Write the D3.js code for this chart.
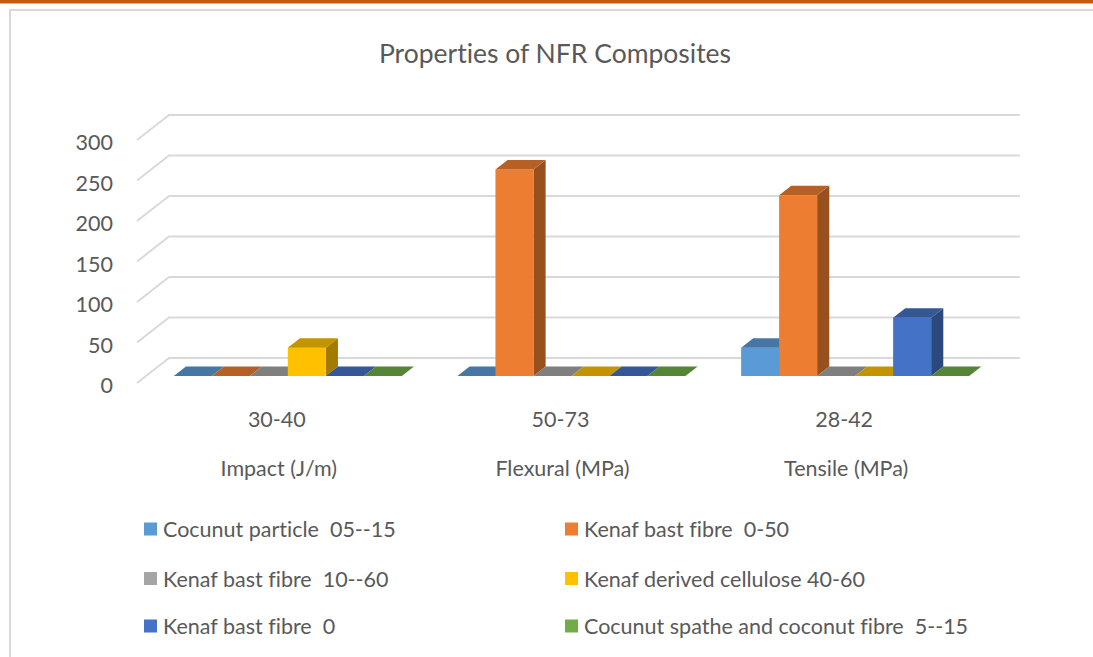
<!DOCTYPE html>
<html>
<head>
<meta charset="utf-8">
<script src="https://cdn.jsdelivr.net/npm/d3@7"></script>
<style>
  html, body { margin: 0; padding: 0; background: #fff; }
  svg { display: block; }
  text { font-family: Lato, "Open Sans", sans-serif; fill: #595959; white-space: pre;
         font-variant-ligatures: none; font-feature-settings: "liga" 0, "clig" 0; }
</style>
</head>
<body>
<svg id="chart" width="1093" height="657"></svg>
<script>
// Chart data
const categories = ["Impact (J/m)", "Flexural (MPa)", "Tensile (MPa)"];
const rangeLabels = ["30-40", "50-73", "28-42"];
const seriesNames = [
  "Cocunut particle  05--15",
  "Kenaf bast fibre  0-50",
  "Kenaf bast fibre  10--60",
  "Kenaf derived cellulose 40-60",
  "Kenaf bast fibre  0",
  "Cocunut spathe and coconut fibre  5--15"
];
const cocunutParticle   = [0, 0, 35];
const kenafBast0to50    = [0, 255, 223];
const kenafBast10to60   = [0, 0, 0];
const kenafCellulose    = [35, 0, 0];
const kenafBast0        = [0, 0, 72];
const cocunutSpathe     = [0, 0, 0];
const seriesValues = [cocunutParticle, kenafBast0to50, kenafBast10to60, kenafCellulose, kenafBast0, cocunutSpathe];
const seriesColors = ["#5B9BD5", "#ED7D31", "#A5A5A5", "#FFC000", "#4472C4", "#70AD47"];
const yTicks = [0, 50, 100, 150, 200, 250, 300];

const svg = d3.select("#chart");

// Window frame
svg.append("rect").attr("x", 0).attr("y", 0).attr("width", 1093).attr("height", 3.5).attr("fill", "#C55A11");
svg.append("rect").attr("x", 10).attr("y", 10).attr("width", 1200).attr("height", 1000)
  .attr("fill", "none").attr("stroke", "#d9d9d9").attr("stroke-width", 2);

// Oblique 3D projection: front plane + depth vector
const depth = { dx: 32, dy: -25 };
const frontLeft = 137, frontRight = 988;
const y = d3.scaleLinear().domain([0, 300]).range([383, 140]);
const x0 = d3.scaleBand().domain(categories).range([frontLeft, frontRight]).padding(0);
const x1 = d3.scaleBand().domain(seriesNames).range([0, x0.bandwidth()]).paddingInner(0).paddingOuter(0.732);

// bars sit between these depth fractions
const barDepth0 = 0.28, barDepth1 = 0.66;

function shade(c, k) {
  const r = d3.rgb(c);
  return d3.rgb(r.r * k, r.g * k, r.b * k).formatHex();
}

// Title
svg.append("text").attr("x", 555).attr("y", 63).attr("text-anchor", "middle")
  .style("font-size", "26.5px").text("Properties of NFR Composites");

// Gridlines (left wall diagonal + back wall)
const grid = svg.append("g");
yTicks.forEach(v => {
  const yf = y(v);
  grid.append("path")
    .attr("d", `M${frontLeft},${yf} L${frontLeft + depth.dx},${yf + depth.dy} L${frontRight + depth.dx},${yf + depth.dy}`)
    .attr("fill", "none").attr("stroke", "#d9d9d9").attr("stroke-width", 2);
});

// Y tick labels
svg.append("g").selectAll("text").data(yTicks).join("text")
  .attr("x", 113).attr("y", d => y(d) + 2)
  .attr("text-anchor", "end").attr("dominant-baseline", "central")
  .style("font-size", "21.5px").text(d => d);

// Bars
const bars = svg.append("g");
const ox = barDepth0 * depth.dx, oy = barDepth0 * depth.dy;
const ddx = (barDepth1 - barDepth0) * depth.dx, ddy = (barDepth1 - barDepth0) * depth.dy;
categories.forEach((cat, ci) => {
  seriesNames.forEach((name, si) => {
    const v = seriesValues[si][ci];
    const col = seriesColors[si];
    const xl = x0(cat) + x1(name) + ox;
    const xr = xl + x1.bandwidth();
    const yb = y(0) + oy;
    const yt = y(v) + oy;
    const g = bars.append("g");
    if (v > 0) {
      // right side face
      g.append("path")
        .attr("d", `M${xr},${yb} L${xr + ddx},${yb + ddy} L${xr + ddx},${yt + ddy} L${xr},${yt} Z`)
        .attr("fill", shade(col, 0.64));
      // front face
      g.append("rect").attr("x", xl).attr("y", yt).attr("width", xr - xl).attr("height", yb - yt)
        .attr("fill", col);
    }
    // top face
    g.append("path")
      .attr("d", `M${xl},${yt} L${xr},${yt} L${xr + ddx},${yt + ddy} L${xl + ddx},${yt + ddy} Z`)
      .attr("fill", shade(col, 0.77));
  });
});

// Category labels (two levels)
const cats = svg.append("g");
categories.forEach((cat, ci) => {
  const cx = x0(cat) + x0.bandwidth() / 2;
  cats.append("text").attr("x", cx - 2).attr("y", 427).attr("text-anchor", "middle")
    .style("font-size", "21.5px").text(rangeLabels[ci]);
  cats.append("text").attr("x", cx).attr("y", 476).attr("text-anchor", "middle")
    .style("font-size", "21.5px").text(cat);
});

// Legend
const legendCols = [144, 565];
const legendRows = [529, 578.5, 626];
const legend = svg.append("g");
seriesNames.forEach((name, i) => {
  const lx = legendCols[i % 2];
  const ly = legendRows[Math.floor(i / 2)];
  legend.append("rect").attr("x", lx).attr("y", ly - 6.5).attr("width", 13).attr("height", 13)
    .attr("fill", seriesColors[i]);
  legend.append("text").attr("x", lx + 19).attr("y", ly + 8)
    .style("font-size", "21.5px").text(name);
});
</script>
</body>
</html>
